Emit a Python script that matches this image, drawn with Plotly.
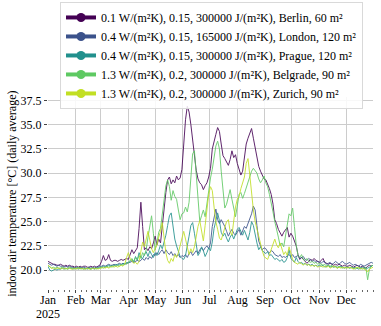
import pandas as pd
import plotly.graph_objects as go

# Daily-average indoor air temperature, every 2nd day of 2025
dates = pd.date_range("2025-01-01", periods=183, freq="2D")

names = [
    "0.1 W/(m²K), 0.15, 300000 J/(m²K), Berlin, 60 m²",
    "0.4 W/(m²K), 0.15, 165000 J/(m²K), London, 120 m²",
    "0.4 W/(m²K), 0.15, 300000 J/(m²K), Prague, 120 m²",
    "1.3 W/(m²K), 0.2, 300000 J/(m²K), Belgrade, 90 m²",
    "1.3 W/(m²K), 0.2, 300000 J/(m²K), Zurich, 90 m²",
]
colors = ["#440154", "#3b528b", "#21908d", "#5ec962", "#c2df23"]

berlin = [
    20.9, 20.8, 20.7, 20.6, 20.6, 20.5, 20.5, 20.6, 20.5, 20.4, 20.5, 20.4, 20.5, 20.4, 20.4, 20.3,
    20.4, 20.3, 20.4, 20.3, 20.4, 20.4, 20.3, 20.3, 20.4, 20.3, 20.4, 20.3, 20.4, 20.5,
    20.9, 21.5, 21.0, 21.1, 21.6, 21.0, 20.9, 21.0, 21.0, 20.9, 21.0, 21.1, 21.0, 21.1, 21.2, 21.1,
    21.6, 22.1, 21.7, 22.0, 22.3, 24.3, 27.0, 24.5, 22.1, 22.3, 22.0, 22.4, 22.2, 22.8, 23.5,
    22.6, 23.2, 22.8, 24.5, 26.8, 28.0, 29.3, 29.6, 28.9, 29.3, 29.0, 29.7, 29.3, 29.5, 30.4,
    33.0, 35.5, 36.9, 36.3, 35.0, 33.5, 31.5, 30.3, 29.4, 29.0, 28.8, 28.3, 28.7, 29.0, 29.6,
    30.5, 32.5, 33.4, 34.0, 34.7, 34.3, 33.0, 31.8, 31.5, 31.2, 30.8, 31.4, 32.3, 31.6, 31.9, 31.0,
    30.4, 29.8, 30.2, 31.8, 33.0, 33.6, 34.1, 34.6, 33.6, 32.5, 31.6, 30.7, 30.2, 29.7, 29.4,
    29.3, 28.9, 28.4, 27.8, 26.8, 25.2, 24.8, 24.2, 23.8, 23.5, 23.9, 24.2, 24.4, 23.4, 23.8,
    23.5, 23.0, 22.5, 21.6, 21.1, 21.3, 21.1, 20.9, 20.7, 20.9, 21.1, 21.0, 21.2, 21.0, 20.9, 20.8,
    21.0, 21.2, 20.8, 20.7, 20.6, 20.7, 20.6, 20.5, 20.6, 20.5, 20.6, 20.5, 20.4, 20.5, 20.4,
    20.4, 20.5, 20.4, 20.3, 20.4, 20.5, 20.4, 20.3, 20.4, 20.3, 20.2, 20.4, 20.5, 20.4, 20.5,
]

london = [
    20.7, 20.6, 20.5, 20.6, 20.5, 20.4, 20.5, 20.4, 20.4, 20.3, 20.4, 20.3, 20.4, 20.3, 20.3, 20.2,
    20.3, 20.2, 20.3, 20.2, 20.3, 20.2, 20.2, 20.3, 20.2, 20.3, 20.2, 20.3, 20.3, 20.4,
    20.4, 20.5, 20.4, 20.5, 20.6, 20.5, 20.5, 20.6, 20.5, 20.6, 20.7, 20.6, 20.7, 20.6, 20.7, 20.8,
    20.8, 20.9, 20.8, 20.9, 21.0, 20.9, 21.0, 21.2, 21.0, 21.3, 21.1, 21.4, 21.2, 21.6, 21.5,
    21.8, 21.6, 21.9, 22.1, 21.7, 22.1, 21.8, 21.6, 21.9, 21.5, 21.7, 21.4, 21.6, 21.3, 21.5,
    21.4, 21.6, 21.3, 21.7, 21.9, 21.5, 21.8, 22.0, 21.7, 22.1, 22.3, 22.0, 22.3, 22.5, 22.2,
    22.8, 24.5, 25.6, 26.3, 25.2, 24.8, 25.2, 24.9, 24.5, 24.0, 23.5, 23.9, 24.2, 23.8, 23.6, 23.9,
    24.2, 23.6, 24.0, 24.5, 24.3, 24.8, 25.3, 25.8, 26.6, 26.2, 24.6, 23.0, 22.5, 22.1, 22.3,
    22.2, 21.9, 21.8, 22.0, 21.9, 21.6, 21.5, 21.4, 21.6, 21.3, 21.4, 21.3, 21.5, 21.6, 21.4,
    21.6, 21.3, 21.4, 21.5, 21.2, 21.3, 21.4, 21.1, 21.0, 21.2, 21.0, 20.9, 21.0, 20.8, 20.9, 20.8,
    20.7, 20.9, 20.8, 20.6, 20.7, 20.8, 20.6, 20.7, 20.9, 20.7, 20.6, 20.8, 20.9, 20.7, 20.6,
    20.7, 20.8, 20.6, 20.5, 20.6, 20.5, 20.4, 20.6, 20.5, 20.4, 20.5, 20.6, 20.7, 20.8, 20.7,
]

prague = [
    20.4, 20.0, 19.9, 20.0, 20.1, 20.0, 20.1, 20.1, 20.2, 20.1, 20.2, 20.1, 20.2, 20.2, 20.1, 20.2,
    20.2, 20.1, 20.2, 20.2, 20.1, 20.2, 20.1, 20.2, 20.1, 20.2, 20.1, 20.2, 20.2, 20.3,
    20.3, 20.4, 20.3, 20.4, 20.5, 20.4, 20.5, 20.4, 20.6, 20.5, 20.6, 20.5, 20.7, 20.6, 20.8, 20.7,
    20.9, 21.1, 20.8, 21.4, 21.0, 21.8, 21.3, 21.2, 21.6, 21.9, 21.4, 22.0, 21.6, 21.3, 21.8,
    21.5, 22.0, 22.6, 22.2, 22.8, 23.6, 24.6, 25.6, 25.9, 24.5, 23.2, 22.5, 21.8, 21.4, 21.2,
    21.1, 21.5, 22.4, 23.5, 24.6, 24.9, 23.8, 22.5, 21.5, 21.8, 22.4, 22.0, 21.4, 21.8, 22.3,
    22.0, 22.9, 24.3, 25.0, 25.9, 25.1, 23.9, 23.5, 23.8, 23.3, 22.9, 23.4, 23.7, 23.2, 23.8, 24.2,
    24.4, 23.9, 23.6, 24.1, 23.6, 23.1, 23.9, 25.0, 24.6, 23.5, 22.8, 22.1, 22.4, 22.0, 21.8,
    21.7, 21.9, 21.5, 21.6, 21.3, 21.1, 21.2, 21.0, 20.9, 21.1, 20.8, 20.9, 21.3, 22.1, 21.2,
    21.0, 20.8, 21.3, 20.9, 20.7, 20.8, 20.6, 20.7, 20.5, 20.6, 20.5, 20.6, 20.4, 20.5, 20.4, 20.5,
    20.4, 20.5, 20.3, 20.4, 20.5, 20.3, 20.4, 20.3, 20.4, 20.2, 20.3, 20.4, 20.3, 20.2, 20.3,
    20.3, 20.2, 20.3, 20.2, 20.3, 20.2, 20.1, 20.2, 20.3, 20.2, 20.1, 20.2, 20.3, 20.4, 20.5,
]

belgrade = [
    20.5, 20.3, 20.2, 20.3, 20.2, 20.3, 20.2, 20.2, 20.3, 20.2, 20.1, 20.2, 20.3, 20.2, 20.2, 20.1,
    20.2, 20.3, 20.2, 20.1, 20.2, 20.1, 20.2, 20.2, 20.1, 20.2, 20.2, 20.1, 20.2, 20.2,
    20.3, 20.2, 20.3, 20.4, 20.3, 20.4, 20.3, 20.5, 20.4, 20.5, 20.4, 20.6, 20.5, 20.7, 20.6, 20.8,
    20.9, 21.2, 20.9, 21.3, 21.1, 21.5, 21.2, 21.8, 21.5, 22.1, 23.4, 24.8, 25.6, 23.8, 22.1,
    22.8, 23.9, 24.3, 25.8, 27.6, 28.7, 29.3, 28.6, 27.2, 28.2, 27.6, 27.3, 26.2, 25.2, 25.8,
    25.9, 26.5, 26.0, 27.0, 29.5, 32.0, 32.3, 30.0, 27.5, 25.0, 25.6, 26.2, 25.5, 26.8, 28.6,
    29.5, 30.4, 31.6, 32.8, 33.3, 32.5, 30.2, 28.5, 26.4, 26.8, 27.5, 28.3, 27.3, 26.2, 25.5, 26.6,
    27.8, 28.0, 27.4, 27.9, 28.5, 29.0, 29.7, 30.2, 30.5, 30.3, 30.0, 29.4, 29.0, 29.3, 29.7,
    29.0, 28.6, 27.8, 27.0, 26.0, 25.0, 24.0, 23.4, 22.5, 22.8, 22.4, 23.6, 25.0, 25.8, 25.6,
    26.4, 24.5, 22.6, 21.5, 21.3, 21.6, 21.1, 21.0, 21.2, 20.9, 20.8, 20.9, 20.7, 20.8, 20.6, 20.7,
    20.6, 20.5, 20.6, 20.4, 20.5, 20.4, 20.5, 20.3, 20.4, 20.3, 20.4, 20.3, 20.2, 20.3, 20.2,
    20.3, 20.2, 20.3, 20.2, 20.1, 20.2, 20.3, 20.2, 20.1, 20.2, 20.3, 19.0, 20.1, 20.4, 20.5,
]

zurich = [
    20.5, 20.3, 20.2, 20.2, 20.1, 20.2, 20.2, 20.1, 20.2, 20.1, 20.2, 20.1, 20.2, 20.1, 20.1, 20.2,
    20.1, 20.2, 20.1, 20.2, 20.1, 20.1, 20.2, 20.1, 20.1, 20.2, 20.1, 20.2, 20.1, 20.2,
    20.2, 20.3, 20.2, 20.3, 20.2, 20.3, 20.4, 20.3, 20.4, 20.3, 20.4, 20.5, 20.4, 20.6, 21.3, 21.8,
    21.2, 20.9, 20.7, 20.8, 20.6, 20.9, 21.8, 22.9, 22.4, 23.2, 24.0, 23.1, 22.2, 21.8, 22.3,
    22.6, 23.4, 24.0, 24.9, 23.5, 21.8, 21.0, 20.7, 21.2, 20.9, 21.6, 21.3, 21.8, 22.5, 23.3,
    24.0, 23.2, 22.3, 21.6, 22.2, 21.8, 22.4, 23.6, 24.5, 25.1, 23.8, 23.0, 24.6, 26.5, 27.8,
    28.6, 28.2, 26.5, 25.0, 24.2, 23.3, 23.1, 23.7, 24.5, 25.0, 25.2, 24.0, 23.6, 25.0, 26.5, 27.3,
    27.6, 28.4, 28.9, 29.6, 31.0, 31.5, 29.8, 27.6, 26.2, 25.0, 24.2, 23.4, 22.8, 22.0, 21.4,
    21.2, 21.1, 21.6, 22.2, 22.8, 23.2, 22.6, 22.3, 22.8, 22.1, 21.6, 21.9, 21.5, 22.4, 21.8,
    21.1, 20.8, 20.7, 20.6, 20.8, 20.6, 20.5, 20.7, 20.5, 20.6, 20.4, 20.5, 20.4, 20.5, 20.3, 20.4,
    20.4, 20.3, 20.4, 20.3, 20.4, 20.2, 20.3, 20.4, 20.3, 20.2, 20.3, 20.2, 20.3, 20.2, 20.3,
    20.2, 20.3, 20.2, 20.1, 20.2, 20.3, 20.2, 20.1, 20.2, 20.1, 20.0, 19.8, 20.1, 20.2, 20.3,
]

series = [berlin, london, prague, belgrade, zurich]

month_ticks = pd.date_range("2025-01-01", periods=12, freq="MS")
month_labels = ["Jan", "Feb", "Mar", "Apr", "May", "Jun",
                "Jul", "Aug", "Sep", "Oct", "Nov", "Dec"]
year_label = "2025"
y_ticks = [20.0, 22.5, 25.0, 27.5, 30.0, 32.5, 35.0, 37.5]

# minor ticks: a few per month, like the date minor locator
minor_ticks = [m + pd.Timedelta(days=d) for m in month_ticks for d in (6, 12, 18, 24)]
minor_ticks.append(pd.Timestamp("2025-12-31"))

FONT = "Liberation Serif, Times New Roman, serif"

fig = go.Figure()
for name, col, vals in zip(names, colors, series):
    assert len(vals) == len(dates), name
    fig.add_trace(go.Scatter(
        x=dates, y=vals, mode="lines", name=name,
        line=dict(color=col, width=1.0), opacity=0.85, showlegend=False,
    ))

# legend entries (line + dot, like the original)
for name, col in zip(names, colors):
    fig.add_trace(go.Scatter(
        x=[None], y=[None], mode="lines+markers", name=name,
        line=dict(color=col, width=4), marker=dict(color=col, size=9),
    ))

fig.update_layout(
    width=381, height=326,
    margin=dict(l=48, r=8, t=97, b=37, autoexpand=False),
    paper_bgcolor="white", plot_bgcolor="white",
    font=dict(family=FONT, size=12, color="black"),
    legend=dict(
        x=0.037, y=1.495, xanchor="left", yanchor="top",
        bgcolor="rgba(255,255,255,0.85)", bordercolor="#d9d9d9", borderwidth=1,
        font=dict(size=12), itemwidth=30, tracegroupgap=0,
    ),
    annotations=[
        dict(text="indoor air temperature [°C] (daily average)",
             xref="paper", yref="paper", x=-0.113, y=0.497,
             xanchor="center", yanchor="middle", textangle=-90,
             showarrow=False, font=dict(size=12)),
        # year under the first month label, as the date formatter does
        dict(text=year_label, xref="x", yref="paper", x=month_ticks[0], y=-0.128,
             xanchor="center", yanchor="middle", showarrow=False,
             font=dict(size=12)),
    ],
)
fig.update_xaxes(
    range=["2025-01-01", "2025-12-31"],
    tickmode="array", tickvals=month_ticks, ticktext=month_labels,
    ticks="outside", ticklen=3, tickcolor="#444", tickangle=0,
    ticklabelstandoff=-3,
    showgrid=True, gridcolor="#cccccc", gridwidth=1,
    showline=False, zeroline=False, automargin=False,
    minor=dict(tickmode="array", tickvals=minor_ticks, ticks="outside",
               ticklen=2, tickcolor="#666", showgrid=False),
)
fig.update_yaxes(
    range=[18.05, 37.85],
    tickmode="array", tickvals=y_ticks, ticktext=[f"{v:.1f}" for v in y_ticks],
    ticks="outside", ticklen=3, tickcolor="#444",
    showgrid=True, gridcolor="#cccccc", gridwidth=1,
    showline=False, zeroline=False, automargin=False,
)

# the page body has a default 8px margin; drop it so the figure sits at (0, 0)
fig.write_html("out.html", config={"displayModeBar": False},
               post_script="document.body.style.margin='0';")
